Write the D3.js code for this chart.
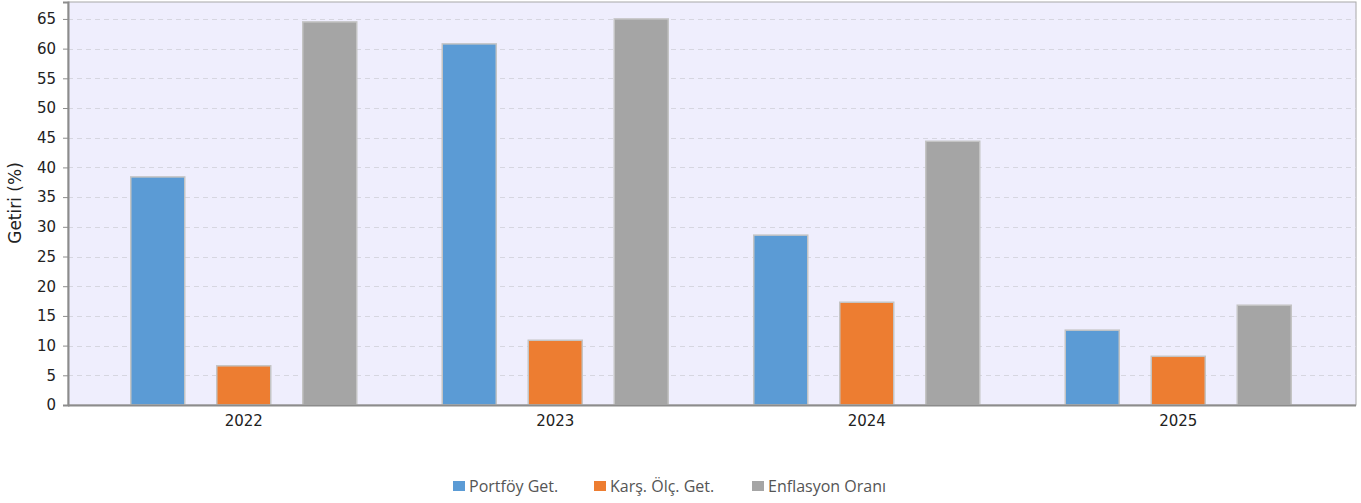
<!DOCTYPE html>
<html>
<head>
<meta charset="utf-8">
<script src="https://cdn.jsdelivr.net/npm/d3@7"></script>
<style>
  body { margin: 0; background: #fff; }
  svg { display: block; }
</style>
</head>
<body>
<div id="chart"></div>
<script>
// data
var years = ['2022', '2023', '2024', '2025'];
var seriesNames = ['Portföy Get.', 'Karş. Ölç. Get.', 'Enflasyon Oranı'];
var portfoy = [38.4, 60.8, 28.6, 12.6];
var karsilastirma = [6.6, 10.9, 17.3, 8.2];
var enflasyon = [64.5, 65.0, 44.4, 16.8];
var yTicks = [0, 5, 10, 15, 20, 25, 30, 35, 40, 45, 50, 55, 60, 65];
var colors = ['#5b9bd5', '#ed7d31', '#a5a5a5'];

var seriesValues = [portfoy, karsilastirma, enflasyon];

var width = 1361, height = 503;
var plot = { left: 68, right: 1356, top: 2, bottom: 405 };
var tickFont = '"DejaVu Sans", Verdana, sans-serif';

var svg = d3.select('#chart').append('svg')
    .attr('width', width)
    .attr('height', height);

var y = d3.scaleLinear()
    .domain([0, 67.85])
    .range([plot.bottom, plot.top]);

var x0 = d3.scaleBand()
    .domain(years)
    .range([88, 1334]);

// bars 54px wide, 86px apart inside each group
var x1 = d3.scaleBand()
    .domain(seriesNames)
    .range([-113, 113])
    .paddingInner(0.372)
    .paddingOuter(0);

// background
svg.append('rect')
    .attr('x', plot.left)
    .attr('y', plot.top)
    .attr('width', plot.right - plot.left)
    .attr('height', plot.bottom - plot.top)
    .style('fill', '#efeefd')
    .style('stroke', '#a8a8a8')
    .style('stroke-width', 1);

// gridlines
svg.append('g').selectAll('line')
    .data(yTicks.filter(function (d) { return d > 0; }))
    .enter().append('line')
    .attr('x1', plot.left)
    .attr('x2', plot.right)
    .attr('y1', function (d) { return Math.round(y(d)) + 0.5; })
    .attr('y2', function (d) { return Math.round(y(d)) + 0.5; })
    .style('stroke', '#d6d6e0')
    .style('stroke-dasharray', '5,4')
    .style('stroke-width', 1);

// bars
var groups = svg.append('g').selectAll('g')
    .data(years)
    .enter().append('g')
    .attr('transform', function (d) { return 'translate(' + (x0(d) + x0.bandwidth() / 2) + ',0)'; });

groups.selectAll('rect')
    .data(function (d, i) {
        return seriesNames.map(function (s, j) { return { name: s, value: seriesValues[j][i], color: colors[j] }; });
    })
    .enter().append('rect')
    .attr('x', function (d) { return x1(d.name); })
    .attr('width', x1.bandwidth())
    .attr('y', function (d) { return y(d.value); })
    .attr('height', function (d) { return plot.bottom - y(d.value); })
    .style('fill', function (d) { return d.color; })
    .style('stroke', '#c4c4c4')
    .style('stroke-width', 1.5);

// y axis
var yAxis = svg.append('g')
    .attr('transform', 'translate(' + plot.left + ',0)')
    .call(d3.axisLeft(y).tickValues(yTicks).tickSize(5).tickPadding(7));
yAxis.select('.domain').style('stroke', '#8c8c8c').style('stroke-width', 2);
yAxis.selectAll('.tick line').style('stroke', '#8c8c8c');
yAxis.selectAll('text')
    .style('font-family', tickFont)
    .style('font-size', '15px')
    .style('fill', '#222');

// x axis
var xAxis = svg.append('g')
    .attr('transform', 'translate(0,' + plot.bottom + ')')
    .call(d3.axisBottom(x0).tickSize(0).tickPadding(10));
xAxis.select('.domain').remove();
svg.append('line')
    .attr('x1', plot.left)
    .attr('x2', plot.right)
    .attr('y1', plot.bottom + 0.5)
    .attr('y2', plot.bottom + 0.5)
    .style('stroke', '#8c8c8c')
    .style('stroke-width', 2);
xAxis.selectAll('text')
    .style('font-family', tickFont)
    .style('font-size', '15px')
    .style('fill', '#222');

// y label
svg.append('text')
    .attr('transform', 'translate(21,' + 203 + ') rotate(-90)')
    .attr('text-anchor', 'middle')
    .style('font-family', tickFont)
    .style('font-size', '17px')
    .style('fill', '#222')
    .text('Getiri (%)');

// legend
var legendX = [453, 594, 752];
var legend = svg.append('g').selectAll('g')
    .data(seriesNames)
    .enter().append('g')
    .attr('transform', function (d, i) { return 'translate(' + legendX[i] + ',481)'; });
legend.append('rect')
    .attr('width', 12)
    .attr('height', 10)
    .style('fill', function (d, i) { return colors[i]; });
legend.append('text')
    .attr('x', 16)
    .attr('y', 11)
    .style('font-family', '"Open Sans", "Noto Sans", sans-serif')
    .style('font-size', '16px')
    .style('fill', '#555')
    .text(function (d) { return d; });
</script>
</body>
</html>
